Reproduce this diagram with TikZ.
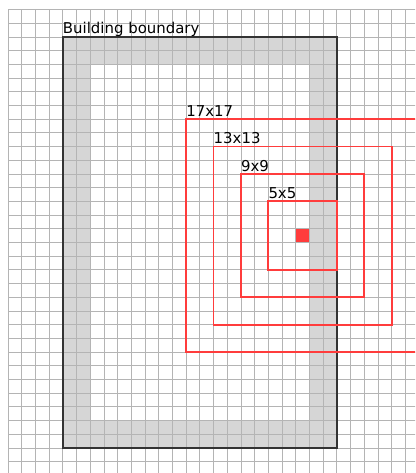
\documentclass[tikz,border=0pt]{standalone}
\usepackage{fontspec}
\setsansfont{DejaVu Sans}
\usepackage{tikz}
\definecolor{gridgray}{HTML}{B4B4B4}
\definecolor{bandgray}{HTML}{D6D6D6}
\definecolor{wallgray}{HTML}{333333}
\definecolor{searchred}{HTML}{FF3C3C}

\begin{document}
\begin{tikzpicture}[x=0.5cm, y=-0.5cm,
    every node/.style={font=\sffamily\fontsize{15.5}{18}\selectfont, inner sep=0pt, anchor=base west}]
    % Fix the frame
    \useasboundingbox (-0.584,-0.693) rectangle (29.708,33.832);
    \clip (-0.584,-0.693) rectangle (29.708,33.832);
    % Draw wall band inside the building
    \fill[bandgray, even odd rule] (4,2) rectangle (24,32) (6,4) rectangle (22,30);
    % Draw grid
    \draw[gridgray, line width=0.7pt, step=0.5cm] (0,0) grid (30,35);
    % Draw building boundary
    \draw[wallgray, line width=1.9pt] (4,2) rectangle (24,32);
    \node (building) at ([yshift=4pt]4,2) {Building boundary};
    % Draw search windows round the cell
    \foreach \n in {5,9,13,17} {
        \draw[searchred, line width=2pt] ({21.5-\n/2},{16.5-\n/2}) rectangle ++(\n,\n);
        \node (win\n) at ([yshift=2.6pt]{21.5-\n/2},{16.5-\n/2}) {\n x\n};
    }
    % Mark the cell
    \fill[searchred] (21,16) rectangle (22,17);
\end{tikzpicture}
\end{document}
